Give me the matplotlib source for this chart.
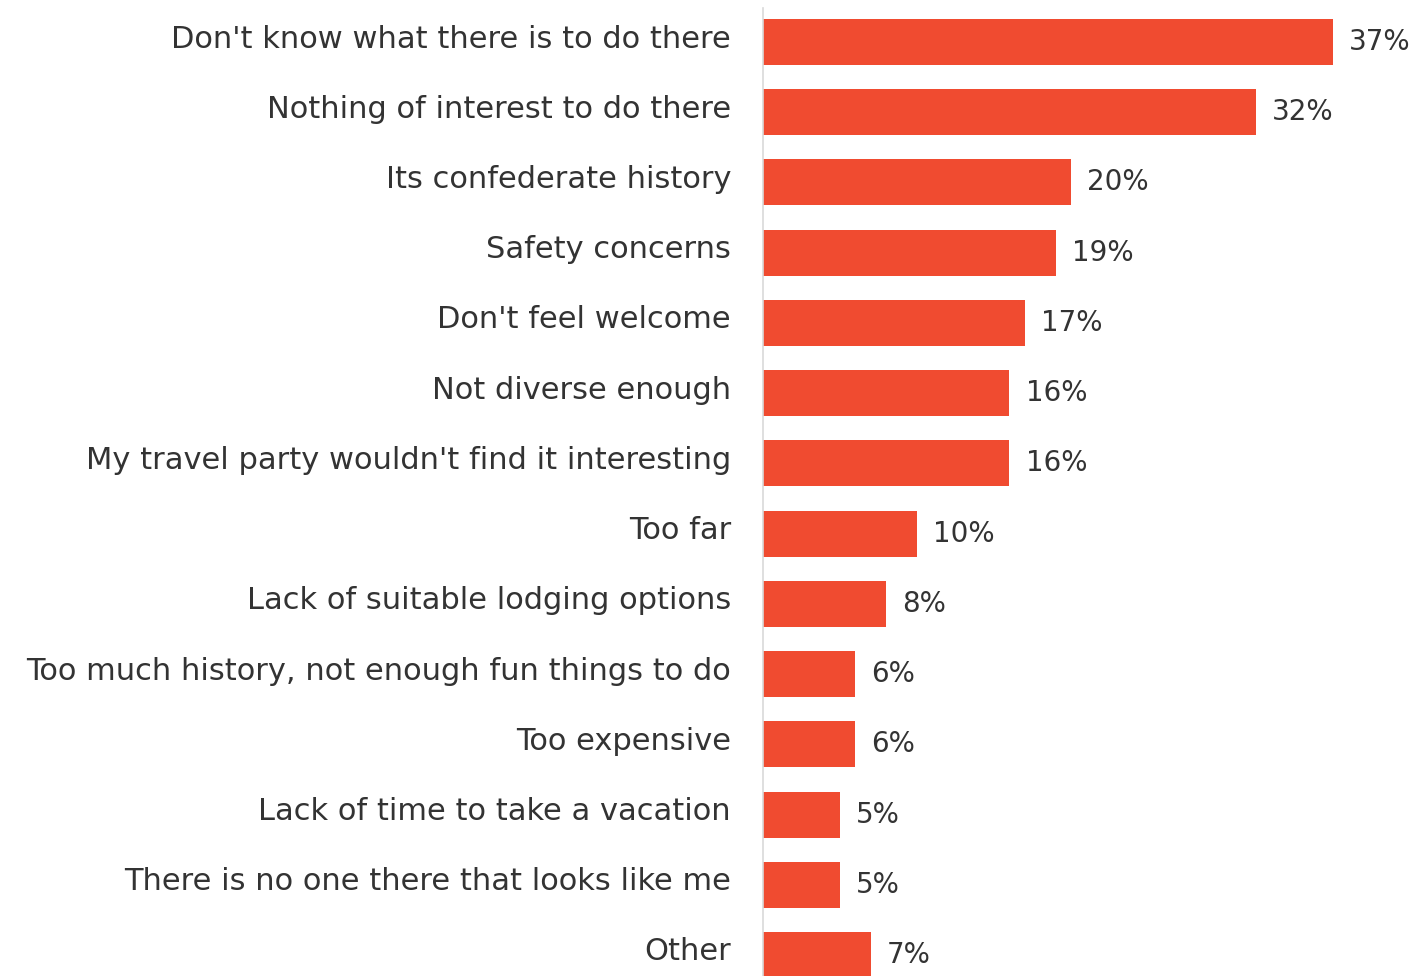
import matplotlib
matplotlib.use("Agg")
import matplotlib.pyplot as plt
import matplotlib.transforms as mtransforms

categories = [
    "Don't know what there is to do there",
    "Nothing of interest to do there",
    "Its confederate history",
    "Safety concerns",
    "Don't feel welcome",
    "Not diverse enough",
    "My travel party wouldn't find it interesting",
    "Too far",
    "Lack of suitable lodging options",
    "Too much history, not enough fun things to do",
    "Too expensive",
    "Lack of time to take a vacation",
    "There is no one there that looks like me",
    "Other",
]
values = [37, 32, 20, 19, 17, 16, 16, 10, 8, 6, 6, 5, 5, 7]

plt.rcParams['font.family'] = ['DejaVu Sans']
fig = plt.figure(figsize=(14.13, 9.76), dpi=100)
ax = fig.add_axes([763/1413, 0, 650/1413, 1])

ypos = list(range(len(categories)))
ax.barh(ypos, values, height=0.655, color='#F04B30', edgecolor='none')
ax.set_xlim(0, 650/15.4)
ax.set_ylim(13 + 21/70.2, -42/70.2)

for y, v in zip(ypos, values):
    ax.text(v + 1.05, y, f"{v}%", va='center', ha='left', fontsize=20, color='#333333')

ax.set_yticks(ypos)
ax.set_yticklabels(categories, fontsize=22, color='#333333', va='center')
ax.tick_params(axis='y', length=0, pad=23)
offset = mtransforms.ScaledTranslation(0, 3/100, fig.dpi_scale_trans)
for lbl in ax.get_yticklabels():
    lbl.set_transform(lbl.get_transform() + offset)
ax.set_xticks([])
for s in ['top', 'right', 'bottom']:
    ax.spines[s].set_visible(False)
ax.spines['left'].set_color('#d9d9d9')
ax.spines['left'].set_linewidth(1.2)
ax.spines['left'].set_bounds(13.5, -0.485)

fig.savefig("out.png", dpi=100)
